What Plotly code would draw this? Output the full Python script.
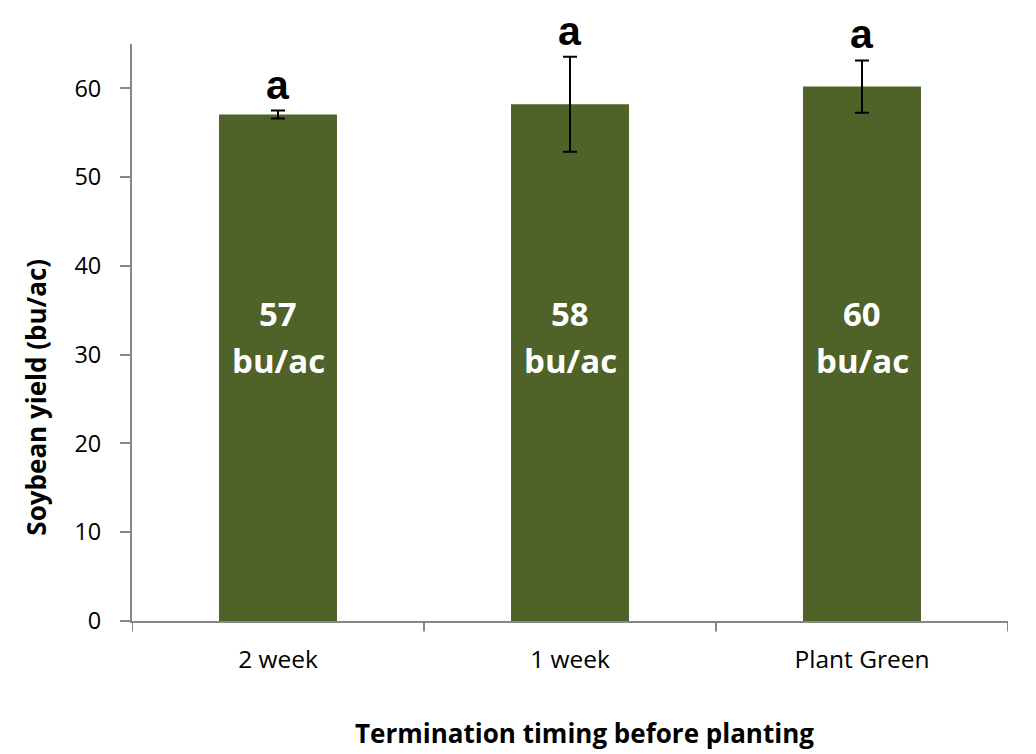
import plotly.graph_objects as go

categories = ["2 week", "1 week", "Plant Green"]
yields = [57.05, 58.2, 60.2]
errors = [0.45, 5.35, 2.95]
value_labels = ["57", "58", "60"]
unit_label = "bu/ac"
letters = ["a", "a", "a"]
y_ticks = [0, 10, 20, 30, 40, 50, 60]

fig = go.Figure()
fig.add_trace(go.Bar(
    x=categories, y=yields, width=0.404,
    marker=dict(color="#4F6228", line=dict(width=0)),
    error_y=dict(type="data", array=errors, visible=True, color="black",
                 thickness=2, width=7),
    hoverinfo="skip",
))

label_font = dict(family="Open Sans", size=33, color="white")
for c, lab in zip(categories, value_labels):
    fig.add_annotation(x=c, y=34.6, text="<b>" + lab + "</b>", showarrow=False,
                       font=label_font, xanchor="center", yanchor="middle")
    fig.add_annotation(x=c, y=29.3, text="<b>" + unit_label + "</b>", showarrow=False,
                       font=label_font, xanchor="center", yanchor="middle")

for c, v, e, l in zip(categories, yields, errors, letters):
    fig.add_annotation(x=c, y=v + e, text="<b>" + l + "</b>", showarrow=False,
                       font=dict(family="Liberation Sans", size=41, color="black"),
                       xanchor="center", yanchor="bottom", yshift=1)

fig.add_annotation(xref="paper", yref="paper", x=0.517, y=-0.159, xanchor="center", yanchor="top",
                   text="<b>Termination timing before planting</b>", showarrow=False,
                   font=dict(family="Open Sans", size=26, color="black"))
fig.add_annotation(xref="paper", yref="paper", x=-0.109, y=0.388, xanchor="center", yanchor="middle",
                   text="<b>Soybean yield (bu/ac)</b>", showarrow=False, textangle=-90,
                   font=dict(family="Open Sans", size=26, color="black"))

fig.update_layout(
    width=1036, height=754,
    margin=dict(l=124, r=36, t=36, b=141),
    paper_bgcolor="white", plot_bgcolor="white",
    showlegend=False,
    font=dict(family="Open Sans", size=23, color="black"),
)
fig.update_xaxes(
    showline=True, linecolor="#868686", linewidth=2,
    ticks="", tickfont=dict(size=24.5, family="Open Sans"),
    showgrid=False, zeroline=False, range=[-0.5, 2.5],
    ticklabelstandoff=16,
)
fig.update_yaxes(
    range=[0, 65], tickvals=y_ticks, showline=True, linecolor="#868686", linewidth=2,
    ticks="outside", ticklen=10, tickcolor="#868686", tickwidth=2,
    tickfont=dict(size=23.5, family="Open Sans"), showgrid=False, zeroline=False,
    ticklabelstandoff=14,
)
for xb in [-0.5, 0.5, 1.5, 2.5]:
    fig.add_shape(type="line", xref="x", yref="paper", x0=xb, x1=xb, y0=0, y1=-0.018,
                  line=dict(color="#868686", width=2))

fig.write_html("out.html")
